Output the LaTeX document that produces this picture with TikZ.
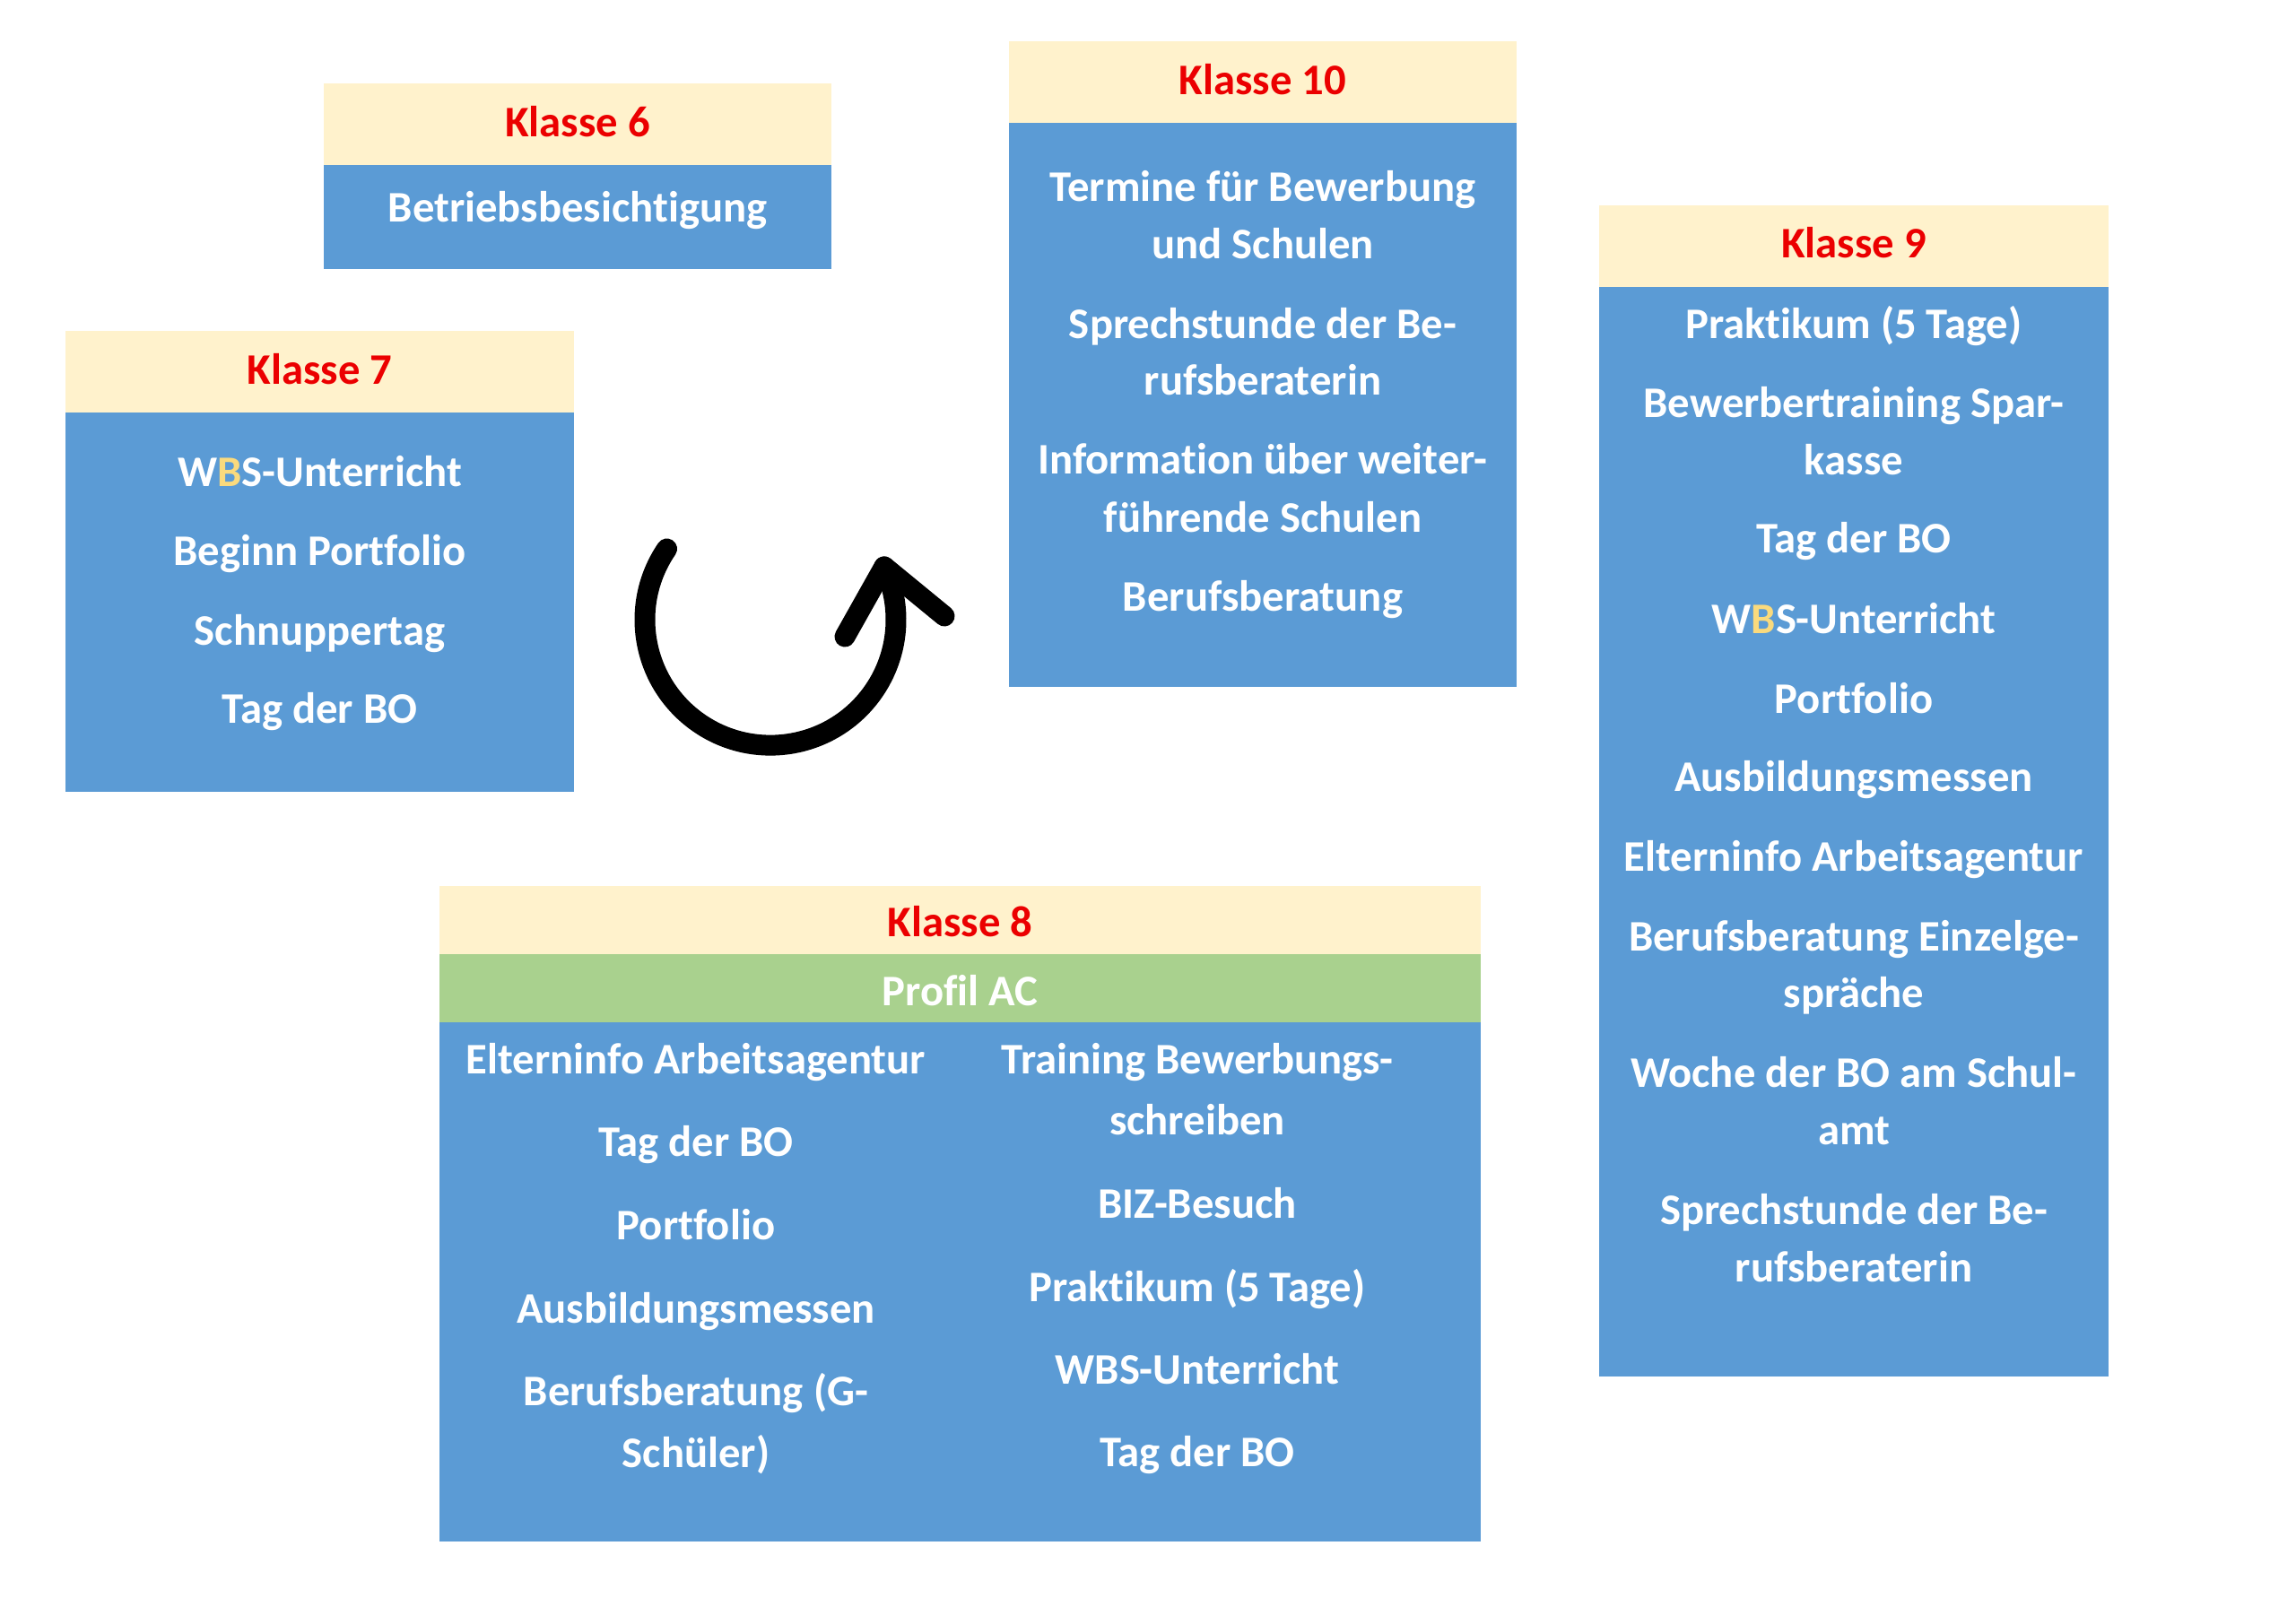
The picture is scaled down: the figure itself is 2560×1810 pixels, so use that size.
\documentclass[tikz,border=0pt]{standalone}
\usepackage{fontspec}
\setmainfont{Carlito}[Ligatures=NoCommon]
\definecolor{hdrfill}{HTML}{FFF2CC}
\definecolor{bodyblue}{HTML}{5B9BD5}
\definecolor{acgreen}{HTML}{A9D18E}
\definecolor{titlered}{RGB}{235,0,0}
\definecolor{wbsB}{RGB}{250,218,125}
\begin{document}
\begin{tikzpicture}[x=0.3pt,y=-0.3pt,
  hdrbox/.style={fill=hdrfill},
  bodybox/.style={fill=bodyblue},
  acbox/.style={fill=acgreen},
  title/.style={anchor=base,inner sep=0pt,text=titlered,font=\fontsize{14.6}{17.5}\selectfont\bfseries},
  item/.style={anchor=base,inner sep=0pt,text=white,font=\fontsize{14.6}{17.5}\selectfont\bfseries},
  cyclearrow/.style={line width=6.9pt,line cap=round,line join=round,black}]
\useasboundingbox (0,0) rectangle (2560,1810);
\fill[white] (0,0) rectangle (2560,1810);

% Klasse 6
\fill[hdrbox] (361,93) rectangle (927,184);
\fill[bodybox] (361,184) rectangle (927,300);
\node[title] (k6t) at (644,152) {Klasse 6};
\node[item] (k6a) at (644,247) {Betriebsbesichtigung};

% Klasse 7
\fill[hdrbox] (73,369) rectangle (640,460);
\fill[bodybox] (73,460) rectangle (640,883);
\node[title] (k7t) at (356.5,428) {Klasse 7};
\node[item] (k7a) at (356.5,542) {W{\color{wbsB}B}S-Unterricht};
\node[item] (k7b) at (356.5,630) {Beginn Portfolio};
\node[item] (k7c) at (356.5,719) {Schnuppertag};
\node[item] (k7d) at (356.5,806) {Tag der BO};

% Klasse 10
\fill[hdrbox] (1125,46) rectangle (1691,137);
\fill[bodybox] (1125,137) rectangle (1691,766);
\node[title] (k10t) at (1408,105) {Klasse 10};
\node[item] (k10a1) at (1408,224) {Termine für Bewerbung};
\node[item] (k10a2) at (1408,288) {und Schulen};
\node[item] (k10b1) at (1408,377) {Sprechstunde der Be-};
\node[item] (k10b2) at (1408,440) {rufsberaterin};
\node[item] (k10c1) at (1408,528) {Information über weiter-};
\node[item] (k10c2) at (1408,593) {führende Schulen};
\node[item] (k10d) at (1408,681) {Berufsberatung};

% Klasse 9
\fill[hdrbox] (1783,229) rectangle (2351,320);
\fill[bodybox] (1783,320) rectangle (2351,1535);
\node[title] (k9t) at (2067,287) {Klasse 9};
\node[item] (k9a) at (2067,377) {Praktikum (5 Tage)};
\node[item] (k9b1) at (2067,465) {Bewerbertraining Spar-};
\node[item] (k9b2) at (2067,529) {kasse};
\node[item] (k9c) at (2067,616) {Tag der BO};
\node[item] (k9d) at (2067,706) {W{\color{wbsB}B}S-Unterricht};
\node[item] (k9e) at (2067,795) {Portfolio};
\node[item] (k9f) at (2067,882) {Ausbildungsmessen};
\node[item] (k9g) at (2067,971) {Elterninfo Arbeitsagentur};
\node[item] (k9h1) at (2067,1060) {Berufsberatung Einzelge-};
\node[item] (k9h2) at (2067,1123) {spräche};
\node[item] (k9i1) at (2067,1212) {Woche der BO am Schul-};
\node[item] (k9i2) at (2067,1276) {amt};
\node[item] (k9j1) at (2067,1365) {Sprechstunde der Be-};
\node[item] (k9j2) at (2067,1429) {rufsberaterin};

% Klasse 8
\fill[hdrbox] (490,988) rectangle (1651,1064);
\fill[acbox] (490,1064) rectangle (1651,1140);
\fill[bodybox] (490,1140) rectangle (1651,1719);
\node[title] (k8t) at (1070.5,1044) {Klasse 8};
\node[item] (k8p) at (1070.5,1121) {Profil AC};
\node[item] (k8l1) at (776,1197) {Elterninfo Arbeitsagentur};
\node[item] (k8l2) at (776,1289) {Tag der BO};
\node[item] (k8l3) at (776,1382) {Portfolio};
\node[item] (k8l4) at (776,1475) {Ausbildungsmessen};
\node[item] (k8l5a) at (776,1567) {Berufsberatung (G-};
\node[item] (k8l5b) at (776,1636) {Schüler)};
\node[item] (k8r1a) at (1335,1197) {Training Bewerbungs-};
\node[item] (k8r1b) at (1335,1265) {schreiben};
\node[item] (k8r2) at (1335,1358) {BIZ-Besuch};
\node[item] (k8r3) at (1335,1451) {Praktikum (5 Tage)};
\node[item] (k8r4) at (1335,1543) {WBS-Unterricht};
\node[item] (k8r5) at (1335,1635) {Tag der BO};

% cycle arrow
\coordinate (arcstart) at (743.5,612);
\coordinate (armL) at (942,710);
\coordinate (armR) at (1053,687);
\draw[cyclearrow] (arcstart) arc[start angle=145.6,end angle=385,radius=42pt] coordinate (tip);
\draw[cyclearrow] (armL) -- (tip) -- (armR);
\end{tikzpicture}
\end{document}
